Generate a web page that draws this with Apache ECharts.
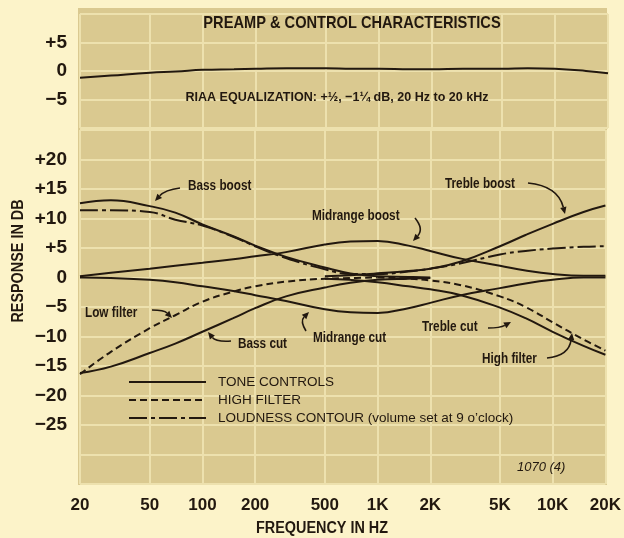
<!DOCTYPE html>
<html><head><meta charset="utf-8">
<script src="https://cdn.jsdelivr.net/npm/echarts@6/dist/echarts.min.js"></script>
<style>html,body{margin:0;padding:0;background:#fcf3c9;}#c{width:624px;height:538px;}</style>
</head><body><div id="c"></div>
<script>
// ---- data ----
const freqHz = [20,30,50,70,100,150,200,300,500,700,1000,1500,2000,3000,5000,7000,10000,15000,20000];
const freqTicks = [20,50,100,200,500,1000,2000,5000,10000,20000];
const riaaDb = [-1.2,-0.8,-0.3,-0.1,0.2,0.3,0.4,0.5,0.5,0.4,0.4,0.3,0.3,0.4,0.4,0.5,0.4,0.0,-0.4];
const bassBoostDb = [12.6,13.1,12.1,11.0,9.0,7.0,5.4,3.5,1.7,0.7,0.2,0.1,0,null,null,null,null,null,null];
const bassCutDb = [-16.2,-15.1,-12.8,-11.2,-9.2,-6.9,-5.2,-3.2,-1.7,-0.9,-0.4,-0.2,-0.1,null,null,null,null,null,null];
const midBoostDb = [0.2,0.8,1.5,2.0,2.5,3.1,3.6,4.3,5.6,6.1,6.2,5.4,4.5,3.2,2.0,1.2,0.6,0.3,0.3];
const midCutDb = [0,-0.1,-0.4,-0.8,-1.5,-2.3,-3.0,-4.0,-5.4,-5.9,-6.0,-5.2,-4.3,-3.0,-1.8,-1.0,-0.4,0,0];
const trebleBoostDb = [null,null,null,null,null,null,null,null,0.2,0.4,0.7,1.1,1.5,2.7,5.3,7.2,9.1,11.1,12.2];
const trebleCutDb = [null,null,null,null,null,null,null,null,-0.2,-0.4,-0.8,-1.5,-2.0,-3.0,-5.1,-6.9,-9.2,-11.6,-13.1];
const lowFilterDb = [-16.4,-12.6,-8.6,-6.4,-4.1,-2.4,-1.5,-0.7,-0.2,-0.1,0,null,null,null,null,null,null,null,null];
const highFilterDb = [null,null,null,null,null,null,null,null,null,null,0,-0.2,-0.5,-1.3,-3.2,-5.0,-7.6,-10.5,-12.4];
const loudnessDb = [11.4,11.4,11.1,9.8,8.8,6.9,5.3,3.3,1.4,0.6,0.6,1.0,1.5,2.4,3.9,4.5,4.9,5.2,5.3];
const upperTicks = [5,0,-5];
const lowerTicks = [20,15,10,5,0,-5,-10,-15,-20,-25];
const legendNames = ['TONE CONTROLS','HIGH FILTER','LOUDNESS CONTOUR (volume set at 9 o\u2019clock)'];

// ---- style ----
const FONT = "'Liberation Sans',Arial,sans-serif";
const INK = '#22180f';
const GRIDC = '#ede1ae';
const pair = arr => freqHz.map((f,i)=>[f, arr[i]]);
const fmtDb = v => v > 0 ? '+' + v : (v < 0 ? '\u2212' + (-v) : '0');

function line(id, name, arr, type, grid){
  return {
    type:'line', id:id, name:name, data:pair(arr), xAxisIndex:grid, yAxisIndex:grid,
    symbol:'none', smooth:0.45, silent:true, z:3,
    lineStyle:{color:INK, width:2, type:type}, itemStyle:{color:INK},
    emphasis:{disabled:true}
  };
}
const vGrid = {silent:true, symbol:'none', label:{show:false}, animation:false, z:1,
  lineStyle:{color:GRIDC, width:2, type:'solid'}, data: freqTicks.map(f=>({xAxis:f}))};

const series = [
  Object.assign(line('RIAA equalization','RIAA EQUALIZATION', riaaDb,'solid',0), {markLine:vGrid}),
  Object.assign(line('Bass boost', legendNames[0], bassBoostDb,'solid',1), {markLine:vGrid}),
  line('Bass cut', legendNames[0], bassCutDb,'solid',1),
  line('Midrange boost', legendNames[0], midBoostDb,'solid',1),
  line('Midrange cut', legendNames[0], midCutDb,'solid',1),
  line('Treble boost', legendNames[0], trebleBoostDb,'solid',1),
  line('Treble cut', legendNames[0], trebleCutDb,'solid',1),
  line('Low filter', legendNames[1], lowFilterDb,[7,4],1),
  line('High filter', legendNames[1], highFilterDb,[7,4],1),
  line('Loudness contour', legendNames[2], loudnessDb,[18,4,4,4],1)
];

function xAxis(grid, showLabels){
  return {type:'log', logBase:10, min:20, max:20000, gridIndex:grid,
    axisLine:{show:false}, axisTick:{show:false}, splitLine:{show:false}, minorSplitLine:{show:false},
    axisLabel:{show:showLabels, customValues:freqTicks, margin:13, color:INK, fontFamily:FONT, fontSize:17, fontWeight:'bold',
      formatter: v => v >= 1000 ? (v/1000) + 'K' : String(v)}};
}
function yAxis(grid, min, max, ticks){
  return {type:'value', gridIndex:grid, min:min, max:max, interval:5,
    axisLine:{show:false}, axisTick:{show:false},
    splitLine:{show:true, lineStyle:{color:GRIDC, width:2}},
    axisLabel:{color:INK, fontFamily:FONT, fontSize:19, fontWeight:'bold', margin:13,
      formatter: v => ticks.indexOf(v) >= 0 ? fmtDb(v) : ''}};
}

// annotations
function txt(x,y,s,size,sx){
  return {type:'text', x:x, y:y, silent:true, z:20, scaleX:sx||1,
    style:{text:s, fill:INK, font:'bold '+size+'px '+FONT, textAlign:'left', textVerticalAlign:'middle'}};
}
function ctxt(x,y,s,size,sx){
  return {type:'text', x:x, y:y, silent:true, z:20, scaleX:sx,
    style:{text:s, fill:INK, font:'bold '+size+'px '+FONT, textAlign:'center', textVerticalAlign:'middle'}};
}
function arrow(x1,y1,cx,cy,x2,y2){
  const a = Math.atan2(y2-cy, x2-cx), L=7, W=3.2;
  const bx = x2 - L*Math.cos(a), by = y2 - L*Math.sin(a);
  return [
    {type:'bezierCurve', silent:true, z:20, shape:{x1:x1,y1:y1,cpx1:cx,cpy1:cy,x2:bx,y2:by},
      style:{stroke:INK, lineWidth:1.6, fill:null}},
    {type:'polygon', silent:true, z:20, shape:{points:[[x2,y2],[bx - W*Math.sin(a), by + W*Math.cos(a)],[bx + W*Math.sin(a), by - W*Math.cos(a)]]},
      style:{fill:INK}}
  ];
}
const LS = 0.84; // condensed lettering
const graphics = [
  {type:'rect', silent:true, z:-10, shape:{x:78,y:8,width:529,height:477}, style:{fill:'#dac990'}},
  ctxt(352,23,'PREAMP & CONTROL CHARACTERISTICS',17,0.86),
  ctxt(337,97,'RIAA EQUALIZATION: +\u00BD, \u22121\u00BC dB, 20 Hz to 20 kHz',13.5,0.93),
  {type:'text', silent:true, z:20, x:19, y:261, rotation:Math.PI/2, scaleX:0.9,
    style:{text:'RESPONSE IN DB', fill:INK, font:'bold 16px '+FONT, textAlign:'center', textVerticalAlign:'middle'}},
  ctxt(322,529,'FREQUENCY IN HZ',16,0.9),
  txt(188,186,'Bass boost',14,LS),
  txt(312,216,'Midrange boost',14,LS),
  txt(445,184,'Treble boost',14,LS),
  txt(85,313,'Low filter',14,LS),
  txt(238,344,'Bass cut',14,LS),
  txt(313,338,'Midrange cut',14,LS),
  txt(422,327,'Treble cut',14,LS),
  txt(482,359,'High filter',14,LS),
  {type:'text', silent:true, z:20, x:517, y:467,
    style:{text:'1070 (4)', fill:INK, font:'italic 13px '+FONT, textAlign:'left', textVerticalAlign:'middle'}}
].concat(
  arrow(180,188,165,190,155,201),
  arrow(415,218,424,229,413,241),
  arrow(528,183,558,186,565,214),
  arrow(152,310,164,310,172,318),
  arrow(231,341,216,342,208,332),
  arrow(306,331,300,321,309,312),
  arrow(488,328,500,328,511,322),
  arrow(547,358,569,356,572,333)
);

const chart = echarts.init(document.getElementById('c'), null, {renderer:'canvas'});
chart.setOption({
  animation:false,
  backgroundColor:'#fcf3c9',
  grid:[
    {left:80, right:16, top:14, height:114},
    {left:80, right:16, top:130, height:354}
  ],
  xAxis:[xAxis(0,false), xAxis(1,true)],
  yAxis:[yAxis(0,-10,10,upperTicks), yAxis(1,-35,25,lowerTicks)],
  legend:{data:legendNames, orient:'vertical', left:128, top:375, padding:0, itemWidth:77, itemHeight:14, itemGap:4,
    z:30, selectedMode:false, itemStyle:{opacity:0},
    textStyle:{color:INK, fontFamily:FONT, fontSize:13.5, padding:[0,0,0,7]}},
  series:series,
  graphic:graphics
});
</script></body></html>
